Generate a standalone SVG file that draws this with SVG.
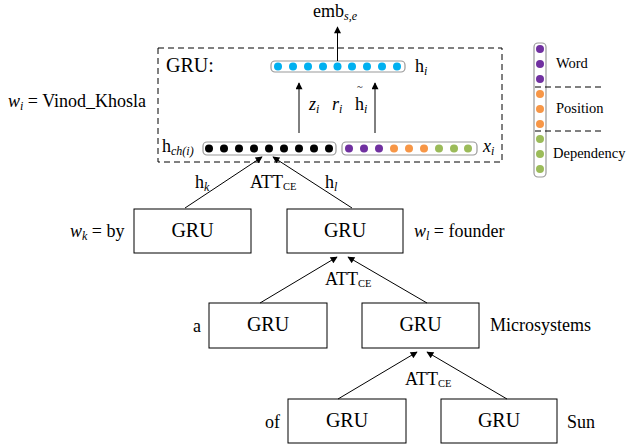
<svg xmlns="http://www.w3.org/2000/svg" width="627" height="445" viewBox="0 0 627 445" font-family="Liberation Serif, Times New Roman, serif">
<defs>
<marker id="ah" viewBox="0 0 10 10" refX="9" refY="5" markerWidth="8" markerHeight="7" orient="auto" markerUnits="userSpaceOnUse"><path d="M0,0 L10,5 L0,10 z" fill="#000"/></marker>
<style>
text{font-family:"Liberation Serif",serif;fill:#000}
.t{font-size:18px}
.gru{font-size:20px}
.s{font-size:12px}
.xs{font-size:10.5px}
.lg{font-size:14.5px}
.i{font-style:italic}
.box{fill:#fff;stroke:#000;stroke-width:1}
.bar{fill:#fff;stroke:#999;stroke-width:1.2}
.e{stroke:#000;stroke-width:1;fill:none;marker-end:url(#ah)}
.dash{stroke:#000;stroke-width:1;fill:none;stroke-dasharray:6,4}
.bl{fill:#00B0F0}.k{fill:#000}.p{fill:#7030A0}.o{fill:#F79646}.g{fill:#9BBB59}
</style>
</defs>
<rect width="627" height="445" fill="#fff"/>

<g id="gru-cell">
<rect x="158" y="48" width="344" height="114" class="dash"/>
<text x="166" y="72" class="gru">GRU:</text>
<rect x="271" y="61" width="134" height="11" rx="4" class="bar"/>
<g class="bl">
<circle cx="278" cy="66.5" r="4"/><circle cx="293" cy="66.5" r="4"/><circle cx="308" cy="66.5" r="4"/><circle cx="323" cy="66.5" r="4"/><circle cx="337.5" cy="66.5" r="4"/><circle cx="352" cy="66.5" r="4"/><circle cx="367" cy="66.5" r="4"/><circle cx="382" cy="66.5" r="4"/><circle cx="397" cy="66.5" r="4"/>
</g>
<text x="415" y="72" class="t">h<tspan class="s i" dy="3">i</tspan></text>
<text x="309" y="110" class="t i">z<tspan class="s" dy="3">i</tspan></text>
<text x="332" y="110" class="t i">r<tspan class="s" dy="3">i</tspan></text>
<text x="355" y="110" class="t">h<tspan class="s i" dy="3">i</tspan></text>
<text x="357" y="90" class="xs">~</text>
<rect x="203" y="142" width="133" height="13" rx="4" class="bar"/>
<g class="k">
<circle cx="209" cy="148.5" r="4"/><circle cx="224" cy="148.5" r="4"/><circle cx="239" cy="148.5" r="4"/><circle cx="254" cy="148.5" r="4"/><circle cx="269" cy="148.5" r="4"/><circle cx="284" cy="148.5" r="4"/><circle cx="299" cy="148.5" r="4"/><circle cx="314" cy="148.5" r="4"/><circle cx="329" cy="148.5" r="4"/>
</g>
<rect x="342" y="142" width="135" height="13" rx="4" class="bar"/>
<circle cx="349" cy="148.5" r="4" class="p"/><circle cx="364" cy="148.5" r="4" class="p"/><circle cx="379" cy="148.5" r="4" class="p"/>
<circle cx="394" cy="148.5" r="4" class="o"/><circle cx="409" cy="148.5" r="4" class="o"/><circle cx="424" cy="148.5" r="4" class="o"/>
<circle cx="439" cy="148.5" r="4" class="g"/><circle cx="454" cy="148.5" r="4" class="g"/><circle cx="468" cy="148.5" r="4" class="g"/>
<text x="162" y="152" class="t">h<tspan class="s i" dy="3">ch(i)</tspan></text>
<text x="483" y="152" class="t i">x<tspan class="s" dy="3">i</tspan></text>
</g>

<g id="emb">
<text x="313" y="17" class="t">emb<tspan class="s i" dy="3">s,e</tspan></text>
</g>

<g id="wi-label">
<text x="8" y="107" class="t"><tspan class="i">w</tspan><tspan class="s i" dy="3">i</tspan><tspan dy="-3"> = Vinod_Khosla</tspan></text>
</g>

<g id="legend">
<rect x="534" y="43" width="12" height="134" rx="4" class="bar"/>
<circle cx="540" cy="49" r="4" class="p"/><circle cx="540" cy="64" r="4" class="p"/><circle cx="540" cy="79" r="4" class="p"/>
<circle cx="540" cy="94" r="4" class="o"/><circle cx="540" cy="109" r="4" class="o"/><circle cx="540" cy="124" r="4" class="o"/>
<circle cx="540" cy="139" r="4" class="g"/><circle cx="540" cy="154" r="4" class="g"/><circle cx="540" cy="169" r="4" class="g"/>
<line x1="535" y1="87" x2="602" y2="87" class="dash"/>
<line x1="535" y1="131" x2="602" y2="131" class="dash"/>
<text x="556" y="68" class="lg">Word</text>
<text x="556" y="113" class="lg">Position</text>
<text x="553" y="158" class="lg">Dependency</text>
</g>

<g id="gru-by">
<rect x="134" y="209" width="117" height="44" class="box"/>
<text x="192.5" y="237" class="gru" text-anchor="middle">GRU</text>
<text x="70" y="237" class="t"><tspan class="i">w</tspan><tspan class="s i" dy="3">k</tspan><tspan dy="-3"> = by</tspan></text>
</g>
<g id="gru-founder">
<rect x="287" y="209" width="116" height="44" class="box"/>
<text x="345" y="237" class="gru" text-anchor="middle">GRU</text>
<text x="414" y="237" class="t"><tspan class="i">w</tspan><tspan class="s i" dy="3">l</tspan><tspan dy="-3"> = founder</tspan></text>
</g>
<g id="gru-a">
<rect x="209" y="303" width="118" height="45" class="box"/>
<text x="268" y="331" class="gru" text-anchor="middle">GRU</text>
<text x="193" y="332" class="t">a</text>
</g>
<g id="gru-microsystems">
<rect x="362" y="303" width="117" height="45" class="box"/>
<text x="420.5" y="331" class="gru" text-anchor="middle">GRU</text>
<text x="490" y="331" class="t">Microsystems</text>
</g>
<g id="gru-of">
<rect x="288" y="399" width="118" height="44" class="box"/>
<text x="347" y="427" class="gru" text-anchor="middle">GRU</text>
<text x="265" y="428" class="t">of</text>
</g>
<g id="gru-sun">
<rect x="441" y="399" width="116" height="44" class="box"/>
<text x="499" y="427" class="gru" text-anchor="middle">GRU</text>
<text x="567" y="428" class="t">Sun</text>
</g>

<g id="connectors">
<line x1="337.5" y1="61" x2="337.5" y2="27" class="e"/>
<line x1="299" y1="133" x2="299" y2="83" class="e"/>
<line x1="375" y1="133" x2="375" y2="83" class="e"/>
<line x1="185" y1="208" x2="262" y2="157" class="e"/>
<line x1="352" y1="208" x2="273" y2="157" class="e"/>
<line x1="260" y1="303" x2="337" y2="257" class="e"/>
<line x1="427" y1="303" x2="348" y2="257" class="e"/>
<line x1="338" y1="399" x2="417" y2="352" class="e"/>
<line x1="507" y1="399" x2="427" y2="352" class="e"/>
<text x="195" y="188" class="t">h<tspan class="s i" dy="3">k</tspan></text>
<text x="250" y="188" class="t">ATT<tspan class="xs" dy="2">CE</tspan></text>
<text x="325" y="188" class="t">h<tspan class="s i" dy="3">l</tspan></text>
<text x="325" y="285" class="t">ATT<tspan class="xs" dy="2">CE</tspan></text>
<text x="405" y="385" class="t">ATT<tspan class="xs" dy="2">CE</tspan></text>
</g>
</svg>
